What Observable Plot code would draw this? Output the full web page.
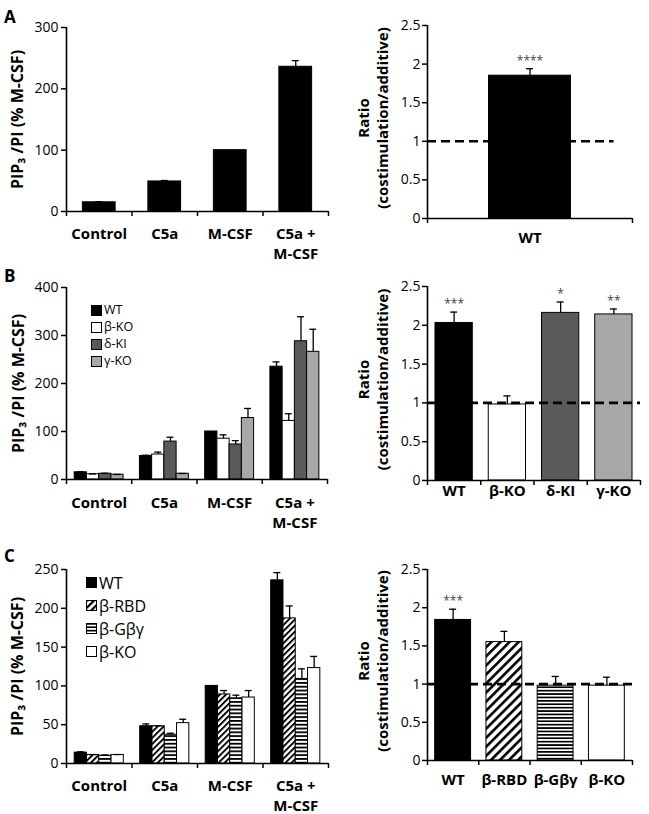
<!DOCTYPE html>
<html>
<head>
<meta charset="utf-8">
<script src="https://cdn.jsdelivr.net/npm/d3@7"></script>
<script src="https://cdn.jsdelivr.net/npm/@observablehq/plot@0.6"></script>
<style>
  body { margin: 0; background: #fff; }
  #fig { position: relative; width: 649px; height: 814px; font-family: 'Open Sans', sans-serif; color: #000; }
  .panel { position: absolute; }
  .letter { position: absolute; font-weight: bold; font-size: 17px; line-height: 1; z-index: 5; }
  .legend { position: absolute; z-index: 5; line-height: 1; }
  .legend .row { display: flex; align-items: center; }
  .legend span { line-height: 1; }
  .legend svg { display: block; margin-right: 2px; }
  #fig svg g[aria-label^="x-axis"] line, #fig svg g[aria-label^="x-axis"] path,
  #fig svg g[aria-label^="y-axis"] line, #fig svg g[aria-label^="y-axis"] path { stroke-width: 1.5px; }
</style>
</head>
<body>
<svg width="0" height="0" style="position:absolute">
  <defs>
    <pattern id="diagL" patternUnits="userSpaceOnUse" width="4.3" height="4.3" patternTransform="rotate(-45)">
      <rect width="4.3" height="4.3" fill="#fff"/><rect width="4.3" height="1.9" fill="#000"/>
    </pattern>
    <pattern id="diagR" patternUnits="userSpaceOnUse" width="6.4" height="6.4" patternTransform="rotate(-45)">
      <rect width="6.4" height="6.4" fill="#fff"/><rect width="6.4" height="2.6" fill="#000"/>
    </pattern>
    <pattern id="horizL" patternUnits="userSpaceOnUse" width="4" height="3.8">
      <rect width="4" height="3.8" fill="#fff"/><rect width="4" height="1.8" fill="#000"/>
    </pattern>
    <pattern id="horizR" patternUnits="userSpaceOnUse" width="4" height="3.4">
      <rect width="4" height="3.4" fill="#fff"/><rect width="4" height="1.7" fill="#000"/>
    </pattern>
    <pattern id="diagLeg" patternUnits="userSpaceOnUse" width="5" height="5" patternTransform="rotate(-45)">
      <rect width="5" height="5" fill="#fff"/><rect width="5" height="2.2" fill="#000"/>
    </pattern>
    <pattern id="horizLeg" patternUnits="userSpaceOnUse" width="4" height="3.4">
      <rect width="4" height="3.4" fill="#fff"/><rect width="4" height="1.7" fill="#000"/>
    </pattern>
  </defs>
</svg>
<div id="fig"></div>
<script>
// ---------------- DATA ----------------
const categories = ["Control", "C5a", "M-CSF", "C5a +\nM-CSF"];
const yTitleLeft = "PIP\u2083 /PI (% M-CSF)";
const yTitleRight = "Ratio\n(costimulation/additive)";

// Panel A
const aSeries = ["WT"];
const aWT = [15, 49, 100, 236];
const aWTErr = [1, 1.5, 0, 10];
const aYTicks = [0, 100, 200, 300];
const aRatioGroups = ["WT"];
const aRatioValues = [1.85];
const aRatioErrors = [0.09];
const aRatioStars = ["****"];

// Panel B
const bSeries = ["WT", "β-KO", "δ-KI", "γ-KO"];
const bWT = [15, 49, 100, 235];
const bWTErr = [1, 1.5, 0, 10];
const bBKO = [11, 52, 85, 122];
const bBKOErr = [0.5, 5, 8, 15];
const bDKI = [12, 79, 73, 288];
const bDKIErr = [1, 9, 8, 51];
const bGKO = [10, 12, 128, 266];
const bGKOErr = [0.5, 0.5, 20, 47];
const bYTicks = [0, 100, 200, 300, 400];
const bRatioGroups = ["WT", "β-KO", "δ-KI", "γ-KO"];
const bRatioValues = [2.03, 0.98, 2.16, 2.14];
const bRatioErrors = [0.14, 0.11, 0.14, 0.07];
const bRatioStars = ["***", "", "*", "**"];

// Panel C
const cSeries = ["WT", "β-RBD", "β-Gβγ", "β-KO"];
const cWT = [14, 48, 100, 236];
const cWTErr = [1, 3, 0, 10];
const cRBD = [11, 48, 89, 187];
const cRBDErr = [0.5, 0.5, 5, 16];
const cGbg = [10, 37, 84, 109];
const cGbgErr = [1, 2, 4, 13];
const cBKO = [11, 52, 85, 123];
const cBKOErr = [0.5, 5, 9, 15];
const cYTicks = [0, 50, 100, 150, 200, 250];
const cRatioGroups = ["WT", "β-RBD", "β-Gβγ", "β-KO"];
const cRatioValues = [1.84, 1.55, 0.98, 0.98];
const cRatioErrors = [0.14, 0.14, 0.12, 0.11];
const cRatioStars = ["***", "", "", ""];

const ratioTicks = [0, 0.5, 1, 1.5, 2, 2.5];

// ---------------- STYLES ----------------
const fillsA = ["#000"];
const fillsB = ["#000", "#fff", "#5a5a5a", "#a8a8a8"];
const fillsCLeft = ["#000", "url(#diagL)", "url(#horizL)", "#fff"];
const fillsCRight = ["#000", "url(#diagR)", "url(#horizR)", "#fff"];
const fillsCLegend = ["#000", "url(#diagLeg)", "url(#horizLeg)", "#fff"];

const baseStyle = {fontFamily: "'Open Sans', sans-serif", fontSize: "14px", color: "#000", background: "transparent", overflow: "visible"};

function groupedPlot(o) {
  const nC = categories.length, nS = o.values.length;
  const barW = nS === 1 ? 0.5 : 0.75 / nS;
  const off = (1 - barW * nS) / 2;
  const rows = [];
  o.values.forEach((vals, j) => vals.forEach((v, i) => {
    const x1 = i + off + j * barW;
    rows.push({i, j, v, e: o.errors[j][i], x1, x2: x1 + barW, xc: x1 + barW / 2});
  }));
  const unit = (o.width - o.ml - o.mr) / nC;
  const cap = 3.5 / unit;
  const errRows = rows.filter(r => r.e > 0);
  return Plot.plot({
    width: o.width, height: o.height,
    marginLeft: o.ml, marginRight: o.mr, marginTop: o.mt, marginBottom: o.mb,
    style: baseStyle,
    x: {domain: [0, nC], ticks: d3.range(nC + 1), tickFormat: () => "", tickSize: 5, label: null},
    y: {domain: o.yDomain, ticks: o.yTicks, tickFormat: d => String(d), tickSize: 5, tickPadding: 3, label: null},
    marks: [
      ...o.values.map((_, j) => Plot.rect(rows.filter(r => r.j === j), {
        x1: "x1", x2: "x2", y1: () => 0, y2: "v", fill: o.fills[j], stroke: "#000", strokeWidth: 1
      })),
      Plot.ruleX(errRows, {x: "xc", y1: "v", y2: d => d.v + d.e, stroke: "#000", strokeWidth: 1.3}),
      Plot.ruleY(errRows, {y: d => d.v + d.e, x1: d => d.xc - cap, x2: d => d.xc + cap, stroke: "#000", strokeWidth: 1.3}),
      Plot.ruleX([0], {stroke: "#000", strokeWidth: 1.6}),
      Plot.ruleY([0], {stroke: "#000", strokeWidth: 1.6}),
      Plot.text(categories, {x: (d, i) => i + 0.5, y: () => 0, text: d => d, lineAnchor: "top", dy: o.labelDy,
        fontWeight: "bold", fontSize: 15, lineHeight: 1.3, fill: "#000"}),
      Plot.text([yTitleLeft], {frameAnchor: "left", textAnchor: "middle", rotate: -90, dx: o.titleDx, text: d => d,
        fontWeight: "bold", fontSize: 16, fill: "#000"})
    ]
  });
}

function ratioPlot(o) {
  const n = o.groups.length;
  const half = n === 1 ? 0.2 : 0.35;
  const rows = o.groups.map((g, i) => ({g, i, v: o.values[i], e: o.errors[i], s: o.stars[i],
    x1: i + 0.5 - half, x2: i + 0.5 + half, xc: i + 0.5}));
  const unit = (o.width - o.ml - o.mr) / n;
  const cap = 3.5 / unit;
  return Plot.plot({
    width: o.width, height: o.height,
    marginLeft: o.ml, marginRight: o.mr, marginTop: o.mt, marginBottom: o.mb,
    style: baseStyle,
    x: {domain: [0, n], ticks: d3.range(n + 1), tickFormat: () => "", tickSize: 5, label: null},
    y: {domain: [0, 2.5], ticks: ratioTicks, tickFormat: d => String(d), tickSize: 5, tickPadding: 2, label: null},
    marks: [
      ...rows.filter(r => r.i > 0).map(r => Plot.rect([r], {
        x1: "x1", x2: "x2", y1: () => 0, y2: "v", fill: o.fills[r.i], stroke: "#000", strokeWidth: 1
      })),
      Plot.ruleY([1], {x1: () => 0, x2: () => n * o.dashEnd, stroke: "#000", strokeWidth: 2.6, strokeDasharray: "9,5"}),
      Plot.rect(rows.filter(r => r.i === 0), {x1: "x1", x2: "x2", y1: () => 0, y2: "v", fill: o.fills[0], stroke: "#000", strokeWidth: 1}),
      Plot.ruleX(rows, {x: "xc", y1: "v", y2: d => d.v + d.e, stroke: "#000", strokeWidth: 1.3}),
      Plot.ruleY(rows, {y: d => d.v + d.e, x1: d => d.xc - cap, x2: d => d.xc + cap, stroke: "#000", strokeWidth: 1.3}),
      Plot.text(rows.filter(r => r.s), {x: "xc", y: d => d.v + d.e, text: "s", dy: -8, fontSize: 12, fill: "#444"}),
      Plot.ruleX([0], {stroke: "#000", strokeWidth: 1.6}),
      Plot.ruleY([0], {stroke: "#000", strokeWidth: 1.6}),
      Plot.text(rows, {x: "xc", y: () => 0, text: "g", lineAnchor: "top", dy: o.labelDy,
        fontWeight: "bold", fontSize: 15, fill: "#000"}),
      Plot.text([yTitleRight], {frameAnchor: "left", textAnchor: "middle", rotate: -90, dx: o.titleDx, dy: -4, text: d => d,
        fontWeight: "bold", fontSize: 15, lineHeight: 1.27, fill: "#000"})
    ]
  });
}

const fig = document.getElementById("fig");
function place(node, left, top, w, h) {
  const d = document.createElement("div");
  d.className = "panel";
  d.style.cssText = `left:${left}px;top:${top}px;width:${w}px;height:${h}px;`;
  d.appendChild(node);
  fig.appendChild(d);
}
function letter(t, left, top) {
  const d = document.createElement("div");
  d.className = "letter";
  d.textContent = t;
  d.style.left = left + "px"; d.style.top = top + "px";
  fig.appendChild(d);
}
function legend(series, fills, left, top, rowH, fontSize) {
  const d = document.createElement("div");
  d.className = "legend";
  d.style.left = left + "px"; d.style.top = top + "px"; d.style.fontSize = fontSize + "px";
  series.forEach((s, j) => {
    const row = document.createElement("div");
    row.className = "row";
    row.style.height = rowH + "px";
    const sw = d3.create("svg").attr("width", 11).attr("height", 11);
    sw.append("rect").attr("x", 0.5).attr("y", 0.5).attr("width", 10).attr("height", 10)
      .attr("fill", fills[j]).attr("stroke", "#000").attr("stroke-width", 1);
    row.appendChild(sw.node());
    const sp = document.createElement("span");
    sp.textContent = s;
    row.appendChild(sp);
    d.appendChild(row);
  });
  fig.appendChild(d);
}

// Panel A
place(groupedPlot({values: [aWT], errors: [aWTErr], fills: fillsA, yDomain: [0, 300], yTicks: aYTicks,
  width: 330, height: 260, ml: 66, mr: 2, mt: 27, mb: 49, labelDy: 14, titleDx: -49}), 0, 0, 330, 260);
place(ratioPlot({groups: aRatioGroups, values: aRatioValues, errors: aRatioErrors, stars: aRatioStars, fills: fillsA,
  width: 319, height: 260, ml: 97, mr: 17, mt: 25, mb: 42, labelDy: 14, titleDx: -55, dashEnd: 0.91}), 330, 0, 319, 260);

// Panel B
place(groupedPlot({values: [bWT, bBKO, bDKI, bGKO], errors: [bWTErr, bBKOErr, bDKIErr, bGKOErr], fills: fillsB,
  yDomain: [0, 400], yTicks: bYTicks,
  width: 330, height: 270, ml: 66, mr: 3, mt: 27, mb: 51, labelDy: 15, titleDx: -48}), 0, 260, 330, 270);
place(ratioPlot({groups: bRatioGroups, values: bRatioValues, errors: bRatioErrors, stars: bRatioStars, fills: fillsB,
  width: 319, height: 270, ml: 97, mr: 9, mt: 26, mb: 50, labelDy: 5, titleDx: -55, dashEnd: 1}), 330, 260, 319, 270);

// Panel C
place(groupedPlot({values: [cWT, cRBD, cGbg, cBKO], errors: [cWTErr, cRBDErr, cGbgErr, cBKOErr], fills: fillsCLeft,
  yDomain: [0, 250], yTicks: cYTicks,
  width: 330, height: 284, ml: 66, mr: 2, mt: 39, mb: 51, labelDy: 14, titleDx: -49}), 0, 530, 330, 284);
place(ratioPlot({groups: cRatioGroups, values: cRatioValues, errors: cRatioErrors, stars: cRatioStars, fills: fillsCRight,
  width: 319, height: 284, ml: 97, mr: 17, mt: 39, mb: 54, labelDy: 14, titleDx: -55, dashEnd: 1.02}), 330, 530, 319, 284);

letter("A", 4, 8);
letter("B", 4, 267);
letter("C", 4, 547);
legend(bSeries, fillsB, 91, 302, 17, 12.5);
legend(cSeries, fillsCLegend, 86, 571, 23, 16);
</script>
</body>
</html>
